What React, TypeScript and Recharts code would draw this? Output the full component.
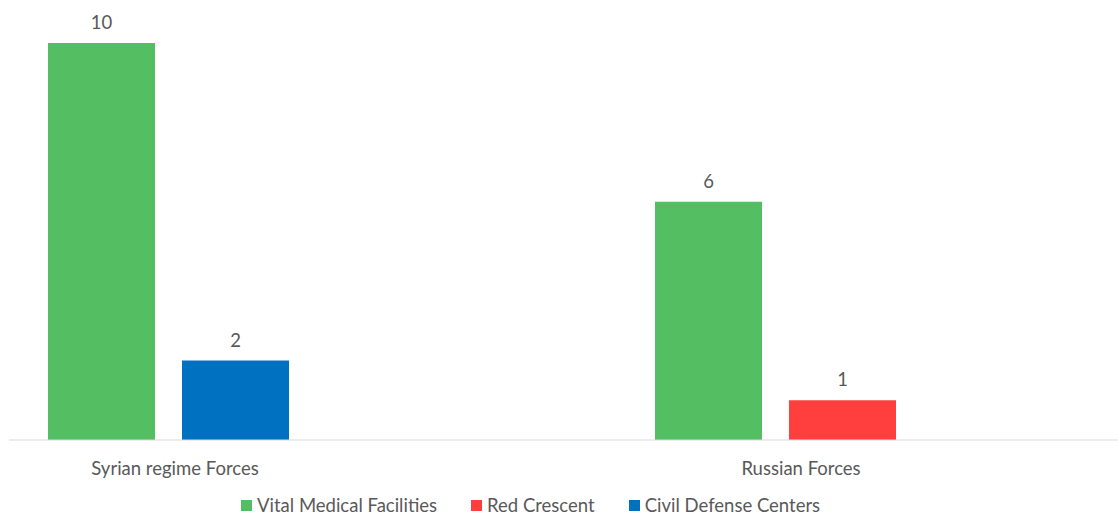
import React from 'react';
import { BarChart, Bar, XAxis, YAxis, Legend, LabelList } from 'recharts';

const categories = ['Syrian regime Forces', 'Russian Forces'];
const vitalMedical: (number | null)[] = [10, 6];
const redCrescent: (number | null)[] = [null, 1];
const civilDefense: (number | null)[] = [2, null];
const seriesNames = ['Vital Medical Facilities', 'Red Crescent', 'Civil Defense Centers'];
const seriesColors = ['#54BE63', '#FF3E3E', '#0070C0'];

const data = categories.map((c, i) => ({
  category: c,
  vital: vitalMedical[i] ?? 0,
  red: redCrescent[i] ?? 0,
  civil: civilDefense[i] ?? 0,
}));

const TEXT = '#595959';
const FONT = 'Lato, "Open Sans", sans-serif';
const FS = 18.5;

const fmt = (v: any) => (v ? String(v) : '');

const renderLegend = () => (
  <div style={{ display: 'flex', alignItems: 'center', height: 22, paddingLeft: 241, fontFamily: FONT, fontSize: FS, color: TEXT, whiteSpace: 'nowrap' }}>
    {seriesNames.map((name, i) => (
      <div key={name} style={{ display: 'flex', alignItems: 'center', marginRight: 34 }}>
        <span style={{ display: 'inline-block', width: 11, height: 11, background: seriesColors[i], marginRight: 5 }} />
        <span>{name}</span>
      </div>
    ))}
  </div>
);

export default function App() {
  return (
    <div style={{ position: 'absolute', left: 0, top: 0, background: '#fff' }}>
      <BarChart
        width={1118}
        height={516}
        data={data}
        margin={{ top: 43, right: 0, left: 9, bottom: 23 }}
        barSize={107}
        barGap={27}
        style={{ fontFamily: FONT }}
      >
        <XAxis
          xAxisId="bars"
          dataKey="category"
          padding={{ left: -144, right: 39 }}
          tick={false}
          tickLine={false}
          height={1}
          axisLine={{ stroke: '#D9D9D9', strokeWidth: 1 }}
        />
        <XAxis
          xAxisId="labels"
          dataKey="category"
          padding={{ left: -147, right: 4 }}
          axisLine={false}
          tickLine={false}
          tickMargin={15}
          height={30}
          tick={{ fill: TEXT, fontSize: FS, fontFamily: FONT }}
        />
        <YAxis hide domain={[0, 10]} width={0} />
        <Legend verticalAlign="bottom" content={renderLegend} wrapperStyle={{ left: 0, bottom: 0, width: 1118 }} />
        <Bar xAxisId="bars" dataKey="vital" name={seriesNames[0]} fill={seriesColors[0]} stackId="a" isAnimationActive={false}>
          <LabelList dataKey="vital" position="top" offset={14} fill={TEXT} fontSize={FS} fontFamily={FONT} formatter={fmt} />
        </Bar>
        <Bar xAxisId="bars" dataKey="red" name={seriesNames[1]} fill={seriesColors[1]} stackId="b" isAnimationActive={false}>
          <LabelList dataKey="red" position="top" offset={14} fill={TEXT} fontSize={FS} fontFamily={FONT} formatter={fmt} />
        </Bar>
        <Bar xAxisId="bars" dataKey="civil" name={seriesNames[2]} fill={seriesColors[2]} stackId="b" isAnimationActive={false}>
          <LabelList dataKey="civil" position="top" offset={14} fill={TEXT} fontSize={FS} fontFamily={FONT} formatter={fmt} />
        </Bar>
      </BarChart>
    </div>
  );
}
